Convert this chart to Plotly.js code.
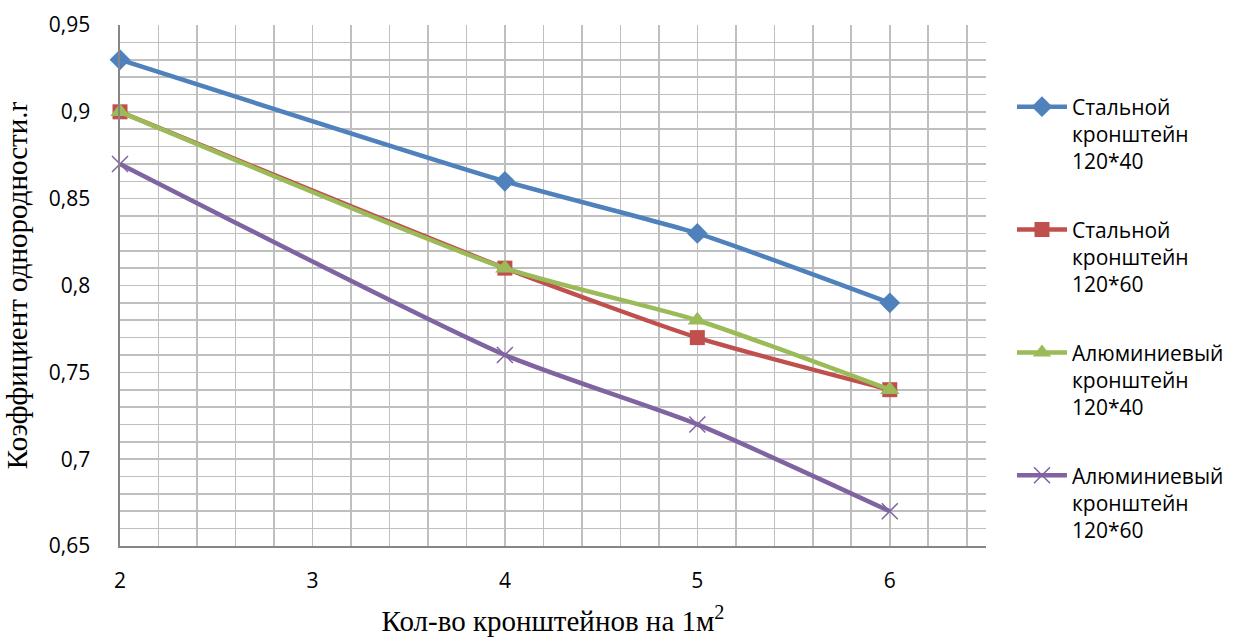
<!DOCTYPE html>
<html><head><meta charset="utf-8">
<script src="https://cdn.plot.ly/plotly-3.0.1.min.js"></script>
<style>body{margin:0;background:#fff}#chart{width:1241px;height:638px}</style>
</head><body><div id="chart"></div>
<script>
const xValues = [2, 4, 5, 6];
const seriesNames = [
  "Стальной<br>кронштейн<br>120*40",
  "Стальной<br>кронштейн<br>120*60",
  "Алюминиевый<br>кронштейн<br>120*40",
  "Алюминиевый<br>кронштейн<br>120*60"
];
const steel40 = [0.93, 0.86, 0.83, 0.79];
const steel60 = [0.90, 0.81, 0.77, 0.74];
const alu40 = [0.90, 0.81, 0.78, 0.74];
const alu60 = [0.87, 0.76, 0.72, 0.67];
const xTicks = [2, 3, 4, 5, 6];

const colors = ["#4F81BD", "#C0504D", "#9BBB59", "#8064A2"];
const symbols = ["diamond", "square", "triangle-up", "x-thin"];
const sizes = [16, 15, 17, 16];
const ys = [steel40, steel60, alu40, alu60];

const traces = ys.map((y, i) => ({
  x: xValues, y: y, name: seriesNames[i], legendgroup: "g" + i,
  type: "scatter", mode: "lines+markers", cliponaxis: false,
  line: {color: colors[i], width: 4.5, shape: "spline", smoothing: 0.6},
  marker: {symbol: symbols[i], size: sizes[i], color: colors[i],
           line: {color: colors[i], width: i === 3 ? 1.5 : 0}}
}));

const gridColor = "#BFBFBF";
const layout = {
  width: 1241, height: 638,
  margin: {l: 120, r: 255, t: 25, b: 92},
  paper_bgcolor: "#fff", plot_bgcolor: "#fff",
  separators: ", ",
  font: {family: "Open Sans, Liberation Sans, sans-serif", color: "#000", size: 21},
  showlegend: true,
  legend: {x: 1.03, xanchor: "left", y: 0.882, yanchor: "top", valign: "top",
           traceorder: "grouped", tracegroupgap: 38, itemwidth: 50,
           font: {family: "Open Sans, sans-serif", size: 21, color: "#000"}},
  xaxis: {
    range: [2, 6.5], tickvals: xTicks, ticktext: xTicks.map(String),
    showgrid: true, gridcolor: gridColor, gridwidth: 1.6,
    minor: {dtick: 0.2, tick0: 2, showgrid: true, gridcolor: gridColor, gridwidth: 1.6},
    showline: true, linecolor: "#868686", linewidth: 1.6,
    zeroline: false, ticks: "", ticklabelstandoff: 15,
    tickfont: {family: "Open Sans, sans-serif", size: 21, color: "#000"},
    title: {text: "Кол-во кронштейнов на 1м<sup>2</sup>", standoff: 18,
            font: {family: "Liberation Serif, Times New Roman, serif", size: 29}}
  },
  yaxis: {
    range: [0.65, 0.95], dtick: 0.05, tick0: 0.65,
    showgrid: true, gridcolor: gridColor, gridwidth: 1.6,
    minor: {dtick: 0.01, showgrid: true, gridcolor: gridColor, gridwidth: 1.6},
    showline: true, linecolor: "#868686", linewidth: 1.6,
    zeroline: false, ticks: "", ticklabelstandoff: 24,
    tickfont: {family: "Open Sans, sans-serif", size: 21, color: "#000"},
    title: {text: "Коэффициент однородности.r", standoff: 12,
            font: {family: "Liberation Serif, Times New Roman, serif", size: 29}}
  }
};
Plotly.newPlot("chart", traces, layout, {displayModeBar: false, staticPlot: true});
</script></body></html>
